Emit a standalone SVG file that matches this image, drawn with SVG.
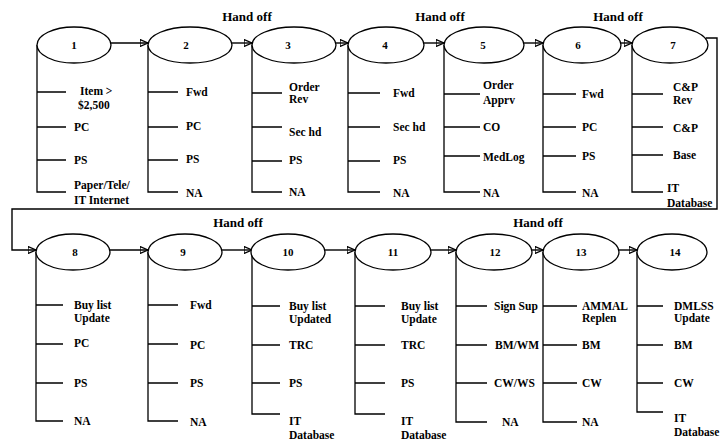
<svg xmlns="http://www.w3.org/2000/svg" width="720" height="440" viewBox="0 0 720 440">
<defs>
<marker id="ah" markerUnits="userSpaceOnUse" markerWidth="9" markerHeight="8" refX="8" refY="4" orient="auto">
<path d="M0,0.5 L8,4 L0,7.5 Z" fill="#000"/>
</marker>
<style>
ellipse{fill:#fff;stroke:#000;stroke-width:1.3}
path{fill:none;stroke:#000;stroke-width:1.3}
text{font-family:"Liberation Serif","Times New Roman",serif;font-weight:bold;font-size:11.5px;fill:#000}
.n{text-anchor:middle;font-size:11px}
.h{text-anchor:middle;font-size:13px}
.c{stroke-width:1.4}
</style>
</defs>
<rect width="720" height="440" fill="#fff"/>
<g id="connectors">
<path class="c" d="M111 43 H148" marker-end="url(#ah)"/>
<path class="c" d="M232 43 H252" marker-end="url(#ah)"/>
<path class="c" d="M336 43 H348" marker-end="url(#ah)"/>
<path class="c" d="M424 43 H444" marker-end="url(#ah)"/>
<path class="c" d="M523 43 H543" marker-end="url(#ah)"/>
<path class="c" d="M621 43 H632" marker-end="url(#ah)"/>
<path class="c" d="M706 38 H717 V209 H12 V250 H36" marker-end="url(#ah)"/>
<path class="c" d="M110 250 H148" marker-end="url(#ah)"/>
<path class="c" d="M222 250 H252" marker-end="url(#ah)"/>
<path class="c" d="M325 250 H355" marker-end="url(#ah)"/>
<path class="c" d="M431 250 H456" marker-end="url(#ah)"/>
<path class="c" d="M532 250 H543" marker-end="url(#ah)"/>
<path class="c" d="M619 250 H637" marker-end="url(#ah)"/>
</g>
<g id="handoff-labels">
<text class="h" x="247" y="21">Hand off</text>
<text class="h" x="440" y="21">Hand off</text>
<text class="h" x="618" y="21">Hand off</text>
<text class="h" x="238" y="227">Hand off</text>
<text class="h" x="538" y="227">Hand off</text>
</g>
<g id="node1">
<path d="M37 45 V192 H66 M37 92 H66 M37 127 H66 M37 160 H66"/>
<ellipse cx="74" cy="45" rx="37" ry="18"/>
<text class="n" x="74" y="49">1</text>
<text x="80" y="95">Item &gt;</text>
<text x="78" y="109">$2,500</text>
<text x="74" y="131">PC</text>
<text x="74" y="164">PS</text>
<text x="74" y="189">Paper/Tele/</text>
<text x="74" y="204">IT Internet</text>
</g>
<g id="node2">
<path d="M148 45 V192 H178 M148 92 H178 M148 127 H178 M148 160 H178"/>
<ellipse cx="190" cy="45" rx="42" ry="18"/>
<text class="n" x="186" y="49">2</text>
<text x="186" y="96">Fwd</text>
<text x="186" y="130">PC</text>
<text x="186" y="163">PS</text>
<text x="186" y="197">NA</text>
</g>
<g id="node3">
<path d="M252 45 V192 H282 M252 93 H282 M252 127 H282 M252 161 H282"/>
<ellipse cx="294" cy="45" rx="42" ry="18"/>
<text class="n" x="288" y="49">3</text>
<text x="289" y="91">Order</text>
<text x="289" y="103">Rev</text>
<text x="289" y="136">Sec hd</text>
<text x="289" y="164">PS</text>
<text x="289" y="196">NA</text>
</g>
<g id="node4">
<path d="M348 45 V192 H380 M348 93 H380 M348 127 H380 M348 161 H380"/>
<ellipse cx="386" cy="45" rx="38" ry="18"/>
<text class="n" x="385" y="49">4</text>
<text x="393" y="97">Fwd</text>
<text x="393" y="131">Sec hd</text>
<text x="393" y="164">PS</text>
<text x="393" y="197">NA</text>
</g>
<g id="node5">
<path d="M444 45 V192 H480 M444 94 H480 M444 127 H480 M444 156 H480"/>
<ellipse cx="484" cy="45" rx="40" ry="18"/>
<text class="n" x="483" y="49">5</text>
<text x="483" y="89">Order</text>
<text x="483" y="104">Apprv</text>
<text x="483" y="131">CO</text>
<text x="483" y="161">MedLog</text>
<text x="483" y="197">NA</text>
</g>
<g id="node6">
<path d="M543 45 V192 H576 M543 94 H576 M543 127 H576 M543 156 H576"/>
<ellipse cx="582" cy="45" rx="39" ry="18"/>
<text class="n" x="578" y="49">6</text>
<text x="582" y="98">Fwd</text>
<text x="582" y="131">PC</text>
<text x="582" y="160">PS</text>
<text x="582" y="197">NA</text>
</g>
<g id="node7">
<path d="M632 45 V192 H663 M632 94 H663 M632 127 H663 M632 155 H663"/>
<ellipse cx="670" cy="45" rx="38" ry="18"/>
<text class="n" x="673" y="49">7</text>
<text x="673" y="91">C&amp;P</text>
<text x="673" y="104">Rev</text>
<text x="673" y="132">C&amp;P</text>
<text x="673" y="159">Base</text>
<text x="667" y="192">IT</text>
<text x="667" y="207">Database</text>
</g>
<g id="node8">
<path d="M36 252 V421 H63 M36 305 H63 M36 344 H63 M36 383 H63"/>
<ellipse cx="73" cy="252" rx="37" ry="18"/>
<text class="n" x="75" y="256">8</text>
<text x="74" y="309">Buy list</text>
<text x="74" y="322">Update</text>
<text x="74" y="347">PC</text>
<text x="74" y="387">PS</text>
<text x="74" y="425">NA</text>
</g>
<g id="node9">
<path d="M148 252 V421 H178 M148 305 H178 M148 344 H178 M148 383 H178"/>
<ellipse cx="185" cy="252" rx="37" ry="18"/>
<text class="n" x="183" y="256">9</text>
<text x="190" y="309">Fwd</text>
<text x="190" y="349">PC</text>
<text x="190" y="387">PS</text>
<text x="190" y="426">NA</text>
</g>
<g id="node10">
<path d="M252 252 V414 H280 M252 306 H280 M252 345 H280 M252 383 H280"/>
<ellipse cx="288" cy="252" rx="37" ry="18"/>
<text class="n" x="288" y="256">10</text>
<text x="289" y="310">Buy list</text>
<text x="289" y="323">Updated</text>
<text x="289" y="349">TRC</text>
<text x="289" y="387">PS</text>
<text x="289" y="425">IT</text>
<text x="289" y="439">Database</text>
</g>
<g id="node11">
<path d="M355 252 V414 H385 M355 306 H385 M355 345 H385 M355 383 H385"/>
<ellipse cx="393" cy="252" rx="38" ry="18"/>
<text class="n" x="393" y="256">11</text>
<text x="401" y="310">Buy list</text>
<text x="401" y="323">Update</text>
<text x="401" y="349">TRC</text>
<text x="401" y="387">PS</text>
<text x="401" y="425">IT</text>
<text x="401" y="439">Database</text>
</g>
<g id="node12">
<path d="M456 252 V422 H487 M456 306 H487 M456 345 H487 M456 383 H487"/>
<ellipse cx="494" cy="252" rx="38" ry="18"/>
<text class="n" x="495" y="256">12</text>
<text x="494" y="310">Sign Sup</text>
<text x="495" y="349">BM/WM</text>
<text x="494" y="387">CW/WS</text>
<text x="502" y="426">NA</text>
</g>
<g id="node13">
<path d="M543 252 V422 H577 M543 306 H577 M543 345 H577 M543 383 H577"/>
<ellipse cx="581" cy="252" rx="38" ry="18"/>
<text class="n" x="581" y="256">13</text>
<text x="582" y="310">AMMAL</text>
<text x="582" y="322">Replen</text>
<text x="582" y="349">BM</text>
<text x="582" y="387">CW</text>
<text x="582" y="426">NA</text>
</g>
<g id="node14">
<path d="M637 252 V412 H663 M637 306 H663 M637 345 H663 M637 383 H663"/>
<ellipse cx="672" cy="252" rx="35" ry="18"/>
<text class="n" x="675" y="256">14</text>
<text x="674" y="310">DMLSS</text>
<text x="674" y="322">Update</text>
<text x="674" y="349">BM</text>
<text x="674" y="387">CW</text>
<text x="674" y="422">IT</text>
<text x="674" y="436">Database</text>
</g>
</svg>
